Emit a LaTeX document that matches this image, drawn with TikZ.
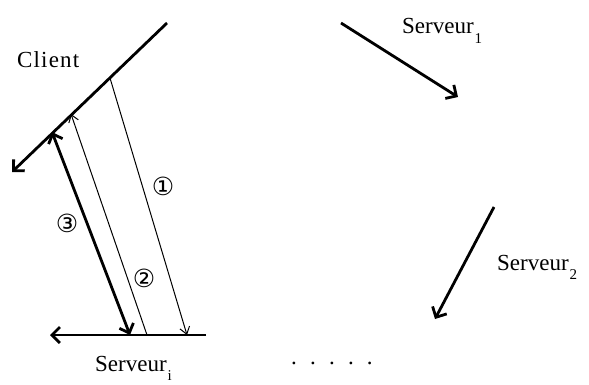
\documentclass[tikz,border=0pt]{standalone}
\usepackage{fontspec}
\setmainfont{Liberation Serif}
\newfontfamily\circfont{DejaVu Sans}
\usetikzlibrary{arrows.meta}

\tikzset{
  axe/.style={line width=2.8pt, -{Straight Barb[length=8pt,width=16pt,line width=2.8pt]}},
  msg/.style={line width=1pt, -{Straight Barb[length=7pt,width=10pt]}},
  rep/.style={line width=2.8pt, {Straight Barb[length=8pt,width=15pt]}-{Straight Barb[length=8pt,width=15pt]}},
  lbl/.style={font=\fontsize{23}{26}\selectfont, inner sep=0pt, anchor=base west},
  num/.style={font=\circfont\fontsize{25}{28}\selectfont, inner sep=0pt}
}
\newcommand{\idx}[1]{\hspace{1pt}\raisebox{-9.5pt}{\fontsize{15}{15}\selectfont #1}}

\begin{document}
\begin{tikzpicture}[x=1pt,y=-1pt]
  \useasboundingbox (0,0) rectangle (589,385);
  % Tell it where the axes are
  \coordinate (c1) at (167,23);
  \coordinate (c0) at (12,172);
  \coordinate (s1) at (206,335);
  \coordinate (s0) at (50,335);
  % points on the axes
  \coordinate (qa) at (110,78);
  \coordinate (qb) at (71,114);
  \coordinate (qc) at (52,132);
  \coordinate (ra) at (187,335);
  \coordinate (rb) at (147,335);
  \coordinate (rc) at (130,335);
  % the other servers
  \coordinate (p1) at (341,23);
  \coordinate (p2) at (458,97);
  \coordinate (p3) at (494,207);
  \coordinate (p4) at (435,319);
  % Tell it what to write
  \node[lbl] (client) at (17,68) {\addfontfeatures{LetterSpace=5}Client};
  \node[lbl] (servi) at (95,371) {Serveur\idx{i}};
  \node[lbl] (serv1) at (402,34) {Serveur\idx{1}};
  \node[lbl] (serv2) at (497,270) {Serveur\idx{2}};
  \node[lbl] (dots) at (291,364) {.\hskip13.2pt.\hskip13.2pt.\hskip13.2pt.\hskip13.2pt.};
  \node[num] (n1) at (163,186) {①};
  \node[num] (n2) at (144,278) {②};
  \node[num] (n3) at (67,223) {③};
  % Tell it what arrows to draw
  \draw[axe] (c1) -- (c0);
  \draw[axe] (s1) -- (s0);
  \draw[msg] (qa) -- (ra);
  \draw[msg] (rb) -- (qb);
  \draw[rep] (qc) -- (rc);
  \draw[axe] (p1) -- (p2);
  \draw[axe] (p3) -- (p4);
\end{tikzpicture}
\end{document}
